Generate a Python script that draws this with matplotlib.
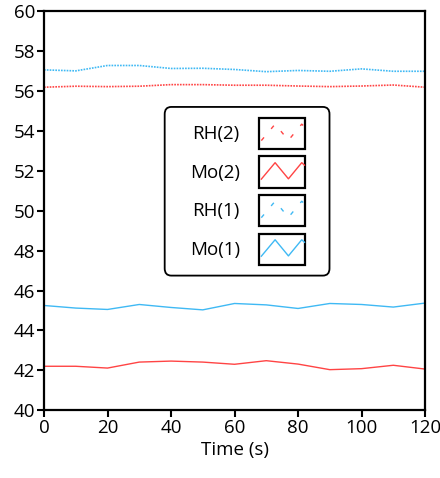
import matplotlib
matplotlib.use(backend="Agg")
import matplotlib.pyplot as plt
from matplotlib.legend_handler import HandlerBase
from matplotlib.lines import Line2D
from matplotlib.patches import Rectangle, FancyBboxPatch
import numpy as np

FONT_SIZE = 13.5
RED = "#ff4444"
BLUE = "#3fb9f4"

time_s = [0, 10, 20, 30, 40, 50, 60, 70, 80, 90, 100, 110, 120]
rh_1 = [57.07, 57.02, 57.29, 57.29, 57.14, 57.15, 57.09, 56.98, 57.04, 57.0, 57.12, 57.0, 57.0]
rh_2 = [56.2, 56.25, 56.23, 56.25, 56.33, 56.33, 56.3, 56.3, 56.26, 56.23, 56.26, 56.31, 56.2]
mo_1 = [45.25, 45.12, 45.05, 45.3, 45.15, 45.03, 45.35, 45.28, 45.1, 45.35, 45.3, 45.17, 45.37]
mo_2 = [42.2, 42.2, 42.11, 42.41, 42.46, 42.41, 42.3, 42.48, 42.31, 42.03, 42.08, 42.25, 42.06]

x_ticks = [0, 20, 40, 60, 80, 100, 120]
y_ticks = [40, 42, 44, 46, 48, 50, 52, 54, 56, 58, 60]

plt.rcParams["font.family"] = ["Open Sans", "DejaVu Sans"]


class ZigzagBoxHandler(HandlerBase):
    """Legend glyph: black box with a zigzag drawn in the line's style."""

    def create_artists(self, legend, orig_handle, xdescent, ydescent,
                       width, height, fontsize, trans):
        x0, y0 = -xdescent, -ydescent
        box = Rectangle((x0, y0), width, height, facecolor="white",
                        edgecolor="black", linewidth=1.6, transform=trans)
        zx = x0 + width * np.array([0.06, 0.36, 0.65, 0.94, 1.0])
        zy = y0 + height * np.array([0.27, 0.80, 0.28, 0.80, 0.72])
        zig = Line2D(zx, zy, color=orig_handle.get_color(), linewidth=1.0,
                     transform=trans)
        if orig_handle.get_linestyle() != "-":
            zig.set_dashes((3.0, 8.0))
        return [box, zig]


fig = plt.figure(figsize=(4.4, 4.78), dpi=100)
ax = fig.add_axes([0.1, 0.142, 0.866, 0.834])

l_mo1, = ax.plot(time_s, mo_1, color=BLUE, lw=1.0, label="Mo(1)")
l_rh1, = ax.plot(time_s, rh_1, color=BLUE, lw=1.2, ls=(0, (1, 0.7)), label="RH(1)")
l_mo2, = ax.plot(time_s, mo_2, color=RED, lw=1.0, label="Mo(2)")
l_rh2, = ax.plot(time_s, rh_2, color=RED, lw=1.2, ls=(0, (1, 0.7)), label="RH(2)")

ax.set_xlim(0, 120)
ax.set_ylim(40, 60)
ax.set_xticks(x_ticks)
ax.set_yticks(y_ticks)
ax.tick_params(direction="out", length=5, width=1.5, labelsize=FONT_SIZE,
               colors="black", pad=1.5)
for spine in ax.spines.values():
    spine.set_linewidth(1.6)
ax.set_xlabel("Time (s)", fontsize=FONT_SIZE, labelpad=3)

leg = ax.legend([l_rh2, l_mo2, l_rh1, l_mo1],
                ["RH(2)", "Mo(2)", "RH(1)", "Mo(1)"],
                handler_map={Line2D: ZigzagBoxHandler()},
                loc="center", bbox_to_anchor=(0.533, 0.549),
                frameon=False, markerfirst=False, fontsize=FONT_SIZE,
                handlelength=2.45, handleheight=2.17, handletextpad=1.0,
                labelspacing=0.4, borderpad=0)

# rounded frame around the legend, wider padding left/right than top/bottom
fig.canvas.draw()
bb = leg.get_window_extent(renderer=fig.canvas.get_renderer())
pad_x, pad_y = 25, 11
x0, y0 = fig.transFigure.inverted().transform((bb.x0 - pad_x, bb.y0 - pad_y))
x1, y1 = fig.transFigure.inverted().transform((bb.x1 + pad_x, bb.y1 + pad_y))
frame = FancyBboxPatch((x0, y0), x1 - x0, y1 - y0, transform=fig.transFigure,
                       boxstyle="round,pad=0,rounding_size=0.015",
                       facecolor="white", edgecolor="black", linewidth=1.3,
                       zorder=4)
fig.patches.append(frame)
leg.set_zorder(5)
leg.remove()
fig.legends.append(leg)
leg.set_figure(fig)

fig.savefig("out.png", dpi=100)
plt.close(fig)
